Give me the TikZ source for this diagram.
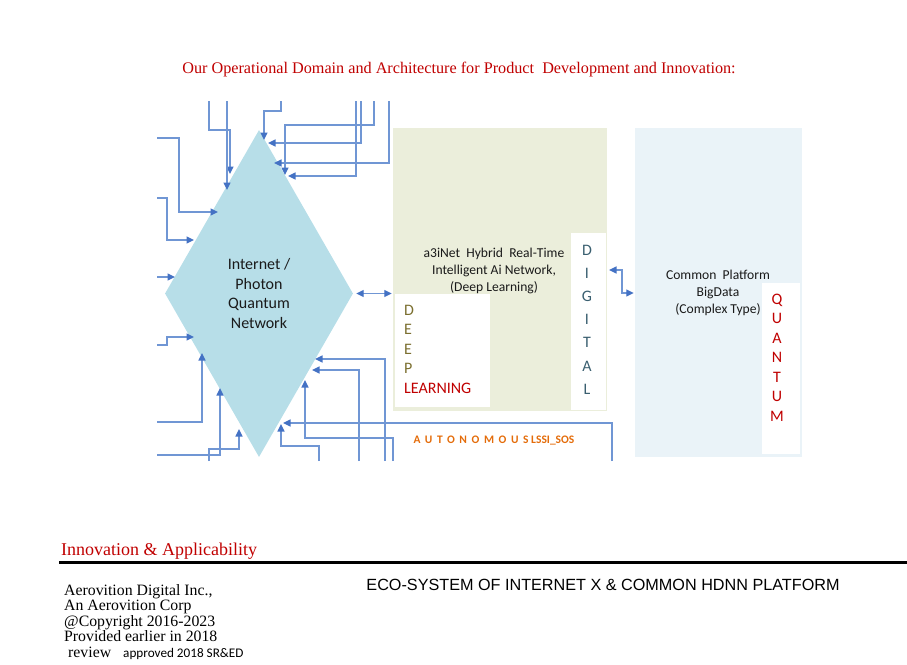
\documentclass[tikz,border=0pt]{standalone}
\usepackage{fontspec}
\setmainfont{Liberation Serif}
\newfontfamily\carlito{Carlito}
\newfontfamily\arialx{Liberation Sans}
\usetikzlibrary{arrows.meta,shapes.geometric}
\definecolor{diamondblue}{HTML}{B7DEE8}
\definecolor{olivebg}{HTML}{EBEEDB}
\definecolor{platbg}{HTML}{EAF3F8}
\definecolor{linkblue}{HTML}{7096D4}
\definecolor{tipblue}{HTML}{4472C4}
\definecolor{titlered}{HTML}{C00000}
\definecolor{deepolive}{HTML}{7B6F2F}
\definecolor{digislate}{HTML}{3A5F70}
\definecolor{autoorange}{HTML}{E46C0A}
\definecolor{textdark}{HTML}{1A1A1A}
\tikzset{
  tipx/.tip={Triangle[length=7.5pt,width=7pt,color=tipblue]},
  link/.style={draw=linkblue, line width=1.3pt, -tipx},
  twoway/.style={draw=linkblue, line width=1.3pt, tipx-tipx},
  panel/.style={rectangle, draw=none, inner sep=0pt},
  vletters/.style={font=\carlito\fontsize{16}{19.5}\selectfont, align=center, inner sep=0pt},
  boxtext/.style={font=\carlito\fontsize{13.6}{17}\selectfont, align=center, inner sep=0pt, text=textdark},
}
\begin{document}
\begin{tikzpicture}[x=1pt,y=-1pt]
\useasboundingbox (0,0) rectangle (907,664);
% title
\node[font=\fontsize{16.2}{19}\selectfont, text=titlered, inner sep=0pt] (title) at (459,70)
  {Our Operational Domain and Architecture for Product\ \ Development and Innovation:};
% panels
\node[panel, fill=olivebg, minimum width=214pt, minimum height=283pt] (green) at (500,269.5) {};
\node[panel, fill=platbg, minimum width=167pt, minimum height=329pt] (plat) at (718.5,292.5) {};
\node[panel, fill=white, minimum width=95pt, minimum height=113pt] (deepbox) at (442.5,350.5) {};
\node[panel, fill=white, minimum width=35pt, minimum height=177pt] (digibox) at (588.5,321.5) {};
\node[panel, fill=white, minimum width=38pt, minimum height=171pt] (quantbox) at (781,368.5) {};
% diamond
\node[diamond, fill=diamondblue, draw=none, inner sep=0pt, minimum width=188pt, minimum height=327pt,
      font=\carlito\fontsize{16}{19.5}\selectfont, align=center, text=textdark] (dmd) at (259,293.5)
  {Internet /\\Photon\\Quantum\\Network};
% texts
\node[boxtext] (a3i) at (494,271) {a3iNet\ \ Hybrid\ \ Real-Time\\Intelligent Ai Network,\\(Deep Learning)};
\node[boxtext] (common) at (718,293) {Common\ \ Platform\\BigData\\(Complex Type)};
\node[vletters, align=left, anchor=west, text=deepolive] (deep) at (404,349)
  {D\\E\\E\\P\\\textcolor{titlered}{LEARNING}};
\node[vletters, font=\carlito\fontsize{16}{23.2}\selectfont, text=digislate] (digital) at (587,319.5)
  {D\\I\\G\\I\\T\\A\\L};
\node[vletters, text=titlered] (quantum) at (777,357.5)
  {Q\\U\\A\\N\\T\\U\\M};
\node[font=\carlito\bfseries\fontsize{11.5}{13}\selectfont, text=autoorange, inner sep=0pt] (auto) at (494,441)
  {{\addfontfeature{LetterSpace=40}AUTONOMOUS} LSSI\_SOS};
% connector ends
\foreach \n/\x/\y in {t1s/209/101, t1e/230/174, t2s/227/101, t2e/227/190, t3s/281/101, t3e/264/140,
  t4s/361/101, t4e/268/143, t5s/374/101, t5e/285/175, t6s/389/101, t6e/274/163, t7s/356/101, t7e/288/176,
  l1s/157/138, l1e/218/212, l2s/157/198, l2e/194/240, l3s/157/277, l3e/175/277, l4s/157/345, l4e/194/337,
  l5s/157/422, l5e/202/353, l6s/157/455, l6e/220/388,
  b1s/209/461, b1e/239/429, b2s/319/461, b2e/281/424, b3s/612/461, b3e/283/423, b4s/393/461, b4e/305/380,
  b5s/359/461, b5e/312/370, b6s/385/461, b6e/315/359, d2s/609/270}
  {\coordinate (\n) at (\x,\y);}
% top connectors
\draw[link] (t1s) -- (209,130) -| (t1e);
\draw[link] (t2s) -- (t2e);
\draw[link] (t3s) -- (281,111) -| (t3e);
\draw[link] (t4s) |- (t4e);
\draw[link] (t5s) -- (374,125) -| (t5e);
\draw[link] (t6s) |- (t6e);
\draw[link] (t7s) |- (t7e);
% left connectors
\draw[link] (l1s) -- (179,138) |- (l1e);
\draw[link] (l2s) -- (167,198) |- (l2e);
\draw[link] (l3s) -- (l3e);
\draw[link] (l4s) -- (167,345) |- (l4e);
\draw[link] (l5s) -| (l5e);
\draw[link] (l6s) -| (l6e);
% bottom connectors
\draw[link] (b1s) -- (209,449) -| (b1e);
\draw[link] (b2s) -- (319,446) -| (b2e);
\draw[link] (b3s) |- (b3e);
\draw[link] (b4s) -- (393,438) -| (b4e);
\draw[link] (b5s) |- (b5e);
\draw[link] (b6s) |- (b6e);
% two-way links
\draw[twoway, shorten <=3pt, shorten >=1pt] (dmd.east) -- (dmd.east -| green.west);
\draw[twoway, shorten >=1pt] (d2s) -- (622,270) |- (plat.west |- 0,293);
% footer
\node[font=\fontsize{18}{20}\selectfont, text=titlered, anchor=west, inner sep=0pt] (innov) at (61,551)
  {Innovation \& Applicability};
\coordinate (rulel) at (59,562);
\coordinate (ruler) at (907,562);
\draw[line width=3pt, black] (rulel) -- (ruler);
\node[font=\fontsize{15.8}{15.6}\selectfont, align=left, anchor=north west, inner sep=0pt] (corp) at (64,584)
  {Aerovition Digital Inc.,\\An Aerovition Corp\\@Copyright 2016-2023\\Provided earlier in 2018\\
   \hspace*{4pt}review\hspace*{12pt}{\carlito\fontsize{13.2}{12}\selectfont approved 2018 SR\&ED}};
\node[font=\arialx\fontsize{16.2}{18}\selectfont, inner sep=0pt] (eco) at (603,585)
  {ECO-SYSTEM OF INTERNET X \& COMMON HDNN PLATFORM};
\end{tikzpicture}
\end{document}
